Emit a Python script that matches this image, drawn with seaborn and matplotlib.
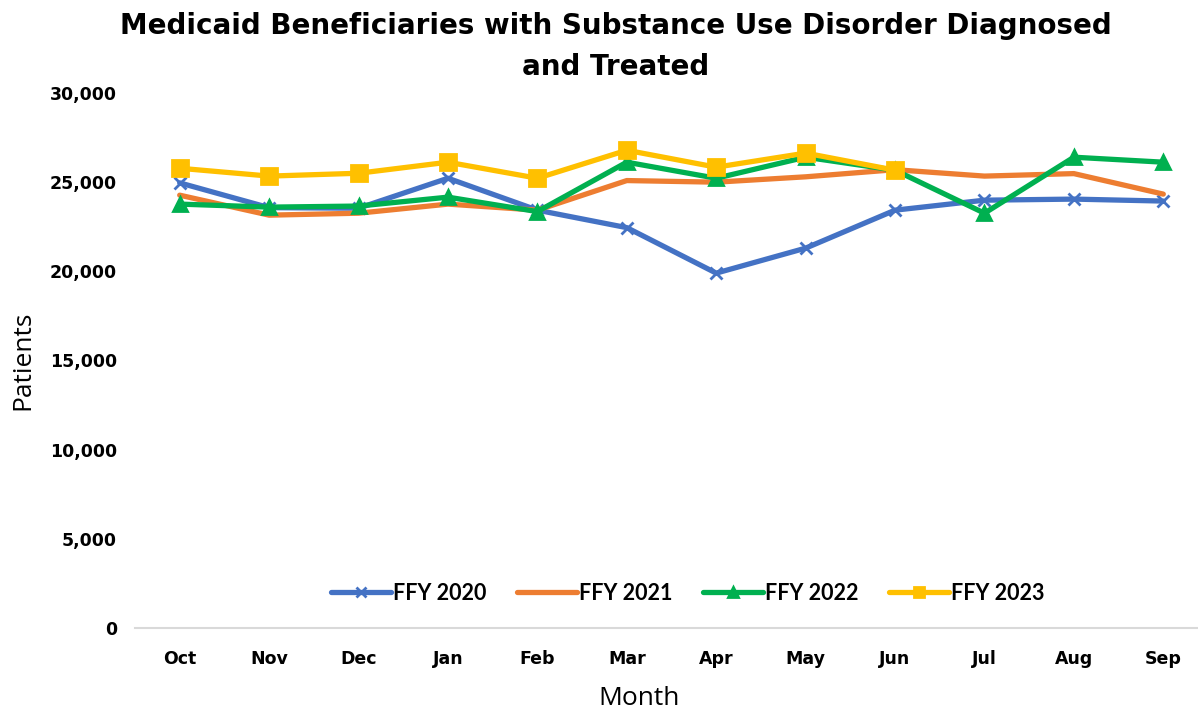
import pandas as pd
import numpy as np
import matplotlib
matplotlib.use("Agg")
import matplotlib.pyplot as plt
import seaborn as sns
from matplotlib.ticker import FuncFormatter, FixedLocator

# Data
months = ["Oct", "Nov", "Dec", "Jan", "Feb", "Mar", "Apr", "May", "Jun", "Jul", "Aug", "Sep"]
ffy_2020 = [24960, 23570, 23540, 25220, 23430, 22450, 19900, 21300, 23430, 23990, 24050, 23940]
ffy_2021 = [24270, 23150, 23260, 23770, 23430, 25090, 25000, 25300, 25700, 25340, 25480, 24330]
ffy_2022 = [23770, 23600, 23660, 24160, 23350, 26120, 25220, 26400, 25670, 23260, 26400, 26120]
ffy_2023 = [25780, 25340, 25500, 26120, 25220, 26790, 25840, 26630, 25670, np.nan, np.nan, np.nan]

series = {"FFY 2020": ffy_2020, "FFY 2021": ffy_2021, "FFY 2022": ffy_2022, "FFY 2023": ffy_2023}
colors = {"FFY 2020": "#4472C4", "FFY 2021": "#ED7D31", "FFY 2022": "#00B050", "FFY 2023": "#FFC000"}
markers = {"FFY 2020": "x", "FFY 2021": None, "FFY 2022": "^", "FFY 2023": "s"}
msizes = {"FFY 2020": 9, "FFY 2021": 0, "FFY 2022": 10, "FFY 2023": 11}

sns.set_theme(style="white")
plt.rcParams["font.family"] = ["DejaVu Sans"]
plt.rcParams["text.color"] = "black"
plt.rcParams["axes.labelcolor"] = "black"
plt.rcParams["xtick.color"] = "black"
plt.rcParams["ytick.color"] = "black"

fig = plt.figure(figsize=(11.98, 7.11), dpi=100)
ax = fig.add_axes([135 / 1198, 83 / 711, 1073 / 1198, 535 / 711])

for name, vals in series.items():
    d = pd.DataFrame({"Month": range(12), "Patients": vals})
    sns.lineplot(data=d, x="Month", y="Patients", color=colors[name], linewidth=3.8,
                 marker=markers[name], markersize=msizes[name], markeredgewidth=2,
                 markeredgecolor=colors[name], label=name, ax=ax)

ax.set_xlim(-0.5, 11.5)
ax.set_ylim(0, 30000)
ax.set_yticks(range(0, 30001, 5000))
ax.yaxis.set_major_formatter(FuncFormatter(lambda v, p: f"{int(v):,}"))
ax.set_xticks(range(12))
ax.set_xticklabels(months)
ax.xaxis.set_minor_locator(FixedLocator(np.arange(-0.5, 12, 1)))

for s in ["left", "right", "top"]:
    ax.spines[s].set_visible(False)
ax.spines["bottom"].set_color("#d9d9d9")
ax.spines["bottom"].set_linewidth(1.5)

ax.tick_params(axis="x", which="major", length=0, pad=16, labelsize=12.5, labelcolor="black")
ax.tick_params(axis="x", which="minor", length=5, width=1.2, color="#d9d9d9", direction="out")
ax.tick_params(axis="y", length=0, pad=13, labelsize=12.5, labelcolor="black")
for lab in ax.get_xticklabels() + ax.get_yticklabels():
    lab.set_fontweight("bold")

ax.set_xlabel("Month", fontsize=19, family="Open Sans", color="black")
ax.xaxis.set_label_coords((639 - 135) / 1073, -0.109)
ax.set_ylabel("Patients", fontsize=19, family="Open Sans", color="black")
ax.yaxis.set_label_coords(-0.093, 0.5)

fig.text(0.514, 1 - 46.5 / 711, "Medicaid Beneficiaries with Substance Use Disorder Diagnosed\nand Treated",
         ha="center", va="center", fontsize=20, fontweight="bold", linespacing=1.62, color="black")

leg = ax.legend(loc="center", bbox_to_anchor=(0.515, 0.065), ncol=4, frameon=False,
                handlelength=2.8, columnspacing=1.4, handletextpad=0.1,
                prop={"family": "Lato", "weight": "bold", "size": 15.5})
for t in leg.get_texts():
    t.set_color("black")
for h in leg.legend_handles:
    h.set_markersize(7)

fig.savefig("out.png", dpi=100)
